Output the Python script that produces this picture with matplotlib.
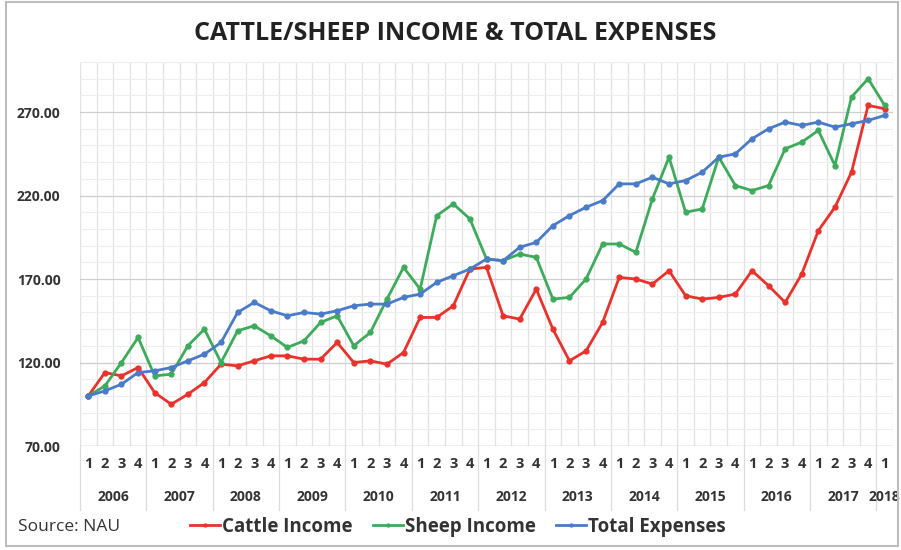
import matplotlib.pyplot as plt
import matplotlib.transforms as mtransforms
from matplotlib.patches import Rectangle
from matplotlib.ticker import MultipleLocator

plt.rcParams['font.family'] = ['Open Sans', 'DejaVu Sans']

# ----------------------------------------------
# data: quarterly index, 2006 Q1 .. 2018 Q1
# ----------------------------------------------
years = ['2006', '2007', '2008', '2009', '2010', '2011', '2012',
         '2013', '2014', '2015', '2016', '2017', '2018']
quarters = ['1', '2', '3', '4'] * 12 + ['1']

cattle = [100, 114, 112, 117, 102, 95, 101, 108,
          119, 118, 121, 124, 124, 122, 122, 132,
          120, 121, 119, 126, 147, 147, 154, 176,
          177, 148, 146, 164, 140, 121, 127, 144,
          171, 170, 167, 175, 160, 158, 159, 161,
          175, 166, 156, 173, 199, 213, 234, 274,
          272]
sheep = [100, 106, 120, 135, 112, 113, 130, 140,
         120, 139, 142, 136, 129, 133, 144, 148,
         130, 138, 158, 177, 164, 208, 215, 206,
         182, 181, 185, 183, 158, 159, 170, 191,
         191, 186, 218, 243, 210, 212, 243, 226,
         223, 226, 248, 252, 259, 238, 279, 290,
         274]
expenses = [100, 103, 107, 114, 115, 117, 121, 125,
            132, 150, 156, 151, 148, 150, 149, 151,
            154, 155, 155, 159, 161, 168, 172, 176,
            182, 181, 189, 192, 202, 208, 213, 217,
            227, 227, 231, 227, 229, 234, 243, 245,
            254, 260, 264, 262, 264, 261, 263, 265,
            268]

series = [('Cattle Income', cattle, '#e8322b'),
          ('Sheep Income', sheep, '#3eaa5c'),
          ('Total Expenses', expenses, '#4a7bc6')]

x = list(range(len(quarters)))

fig = plt.figure(figsize=(9.01, 5.50), dpi=100)
ax = fig.add_axes([80 / 901, 1 - 446 / 550, 813 / 901, 384 / 550])

for name, vals, col in series:
    ax.plot(x, vals, color=col, linewidth=2, marker='o', markersize=3.5,
            label=name, zorder=3)

ax.set_xlim(-0.5, len(x) - 0.5)
ax.set_ylim(70, 300)

# gridlines
ax.set_yticks([70, 120, 170, 220, 270])
ax.yaxis.set_minor_locator(MultipleLocator(10))
ax.grid(axis='y', which='major', color='#cfcfcf', linewidth=0.9)
ax.grid(axis='y', which='minor', color='#eeeeee', linewidth=0.8)
for k in range(len(x) + 1):
    ax.axvline(k - 0.5, color='#e2e2e2', linewidth=0.9, zorder=0)
ax.set_axisbelow(True)

for s in ax.spines.values():
    s.set_visible(False)
ax.axhline(70, color='#d6d6d6', linewidth=1, zorder=1)

ax.set_yticklabels(['%.2f' % v for v in [70, 120, 170, 220, 270]],
                   fontsize=10, fontweight='bold', color='#333333')
ax.tick_params(axis='y', which='both', length=0, pad=14)

# two level category axis
ax.set_xticks(x)
ax.set_xticklabels(quarters, fontsize=10.5, fontweight='bold', color='#333333')
ax.tick_params(axis='x', length=0, pad=8)

trans = mtransforms.blended_transform_factory(ax.transData, fig.transFigure)
for i, yr in enumerate(years):
    start = i * 4
    end = min(start + 3, len(x) - 1)
    ax.text((start + end) / 2, 1 - 497 / 550, yr, transform=trans,
            ha='center', va='center', fontsize=10, fontweight='bold',
            color='#333333', clip_on=False)
for b in range(0, len(x) + 1, 4):
    ax.plot([b - 0.5, b - 0.5], [1 - 446 / 550, 1 - 510 / 550],
            transform=trans, color='#dcdcdc', linewidth=0.9, clip_on=False)

# title, source, legend
fig.text(0.505, 1 - 33 / 550, 'CATTLE/SHEEP INCOME & TOTAL EXPENSES',
         ha='center', va='center', fontsize=18, fontweight='bold',
         color='#222222')
fig.text(18 / 901, 1 - 527 / 550, 'Source: NAU', ha='left', va='center',
         fontsize=12.5, color='#333333')
leg = fig.legend(loc='center', bbox_to_anchor=(458 / 901, 1 - 527 / 550),
                 ncol=3, frameon=False, handlelength=1.6, handletextpad=0.1,
                 columnspacing=1.1, markerscale=0.6,
                 prop={'size': 13.5, 'weight': 'bold'})
for t in leg.get_texts():
    t.set_color('#333333')

# outer chart border
fig.patches.append(Rectangle((6 / 901, 4 / 550), 892 / 901, 544 / 550,
                             transform=fig.transFigure, fill=False,
                             edgecolor='#bdbdbd', linewidth=1.5))

fig.savefig('out.png', dpi=100)
